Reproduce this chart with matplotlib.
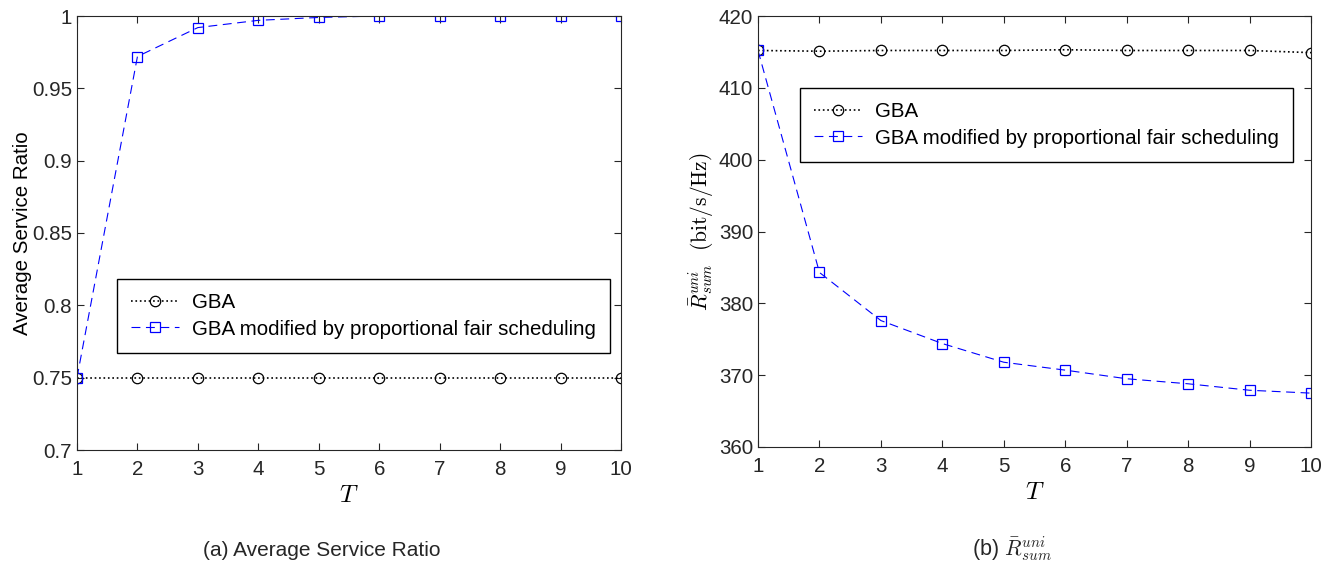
import matplotlib
matplotlib.use("Agg")
import matplotlib.pyplot as plt

plt.rcParams['font.family'] = ['Liberation Sans', 'DejaVu Sans']
plt.rcParams['mathtext.fontset'] = 'cm'

# data
T = [1, 2, 3, 4, 5, 6, 7, 8, 9, 10]
ratio_gba = [0.75, 0.75, 0.75, 0.75, 0.75, 0.75, 0.75, 0.75, 0.75, 0.75]
ratio_pf = [0.75, 0.972, 0.992, 0.997, 0.999, 1.0, 1.0, 1.0, 1.0, 1.0]
rate_gba = [415.2, 415.1, 415.2, 415.2, 415.2, 415.3, 415.2, 415.2, 415.2, 414.9]
rate_pf = [415.2, 384.3, 377.6, 374.4, 371.8, 370.7, 369.5, 368.8, 367.9, 367.5]

label_gba = 'GBA'
label_pf = 'GBA modified by proportional fair scheduling'

FS = 14.8
fig = plt.figure(figsize=(13.35, 5.7), dpi=100)
W, H = 1335.0, 570.0
ax1 = fig.add_axes([77 / W, 1 - 450 / H, (621 - 77) / W, (450 - 16) / H])
ax2 = fig.add_axes([758 / W, 1 - 447 / H, (1311 - 758) / W, (447 - 16) / H])


def draw(ax, y_gba, y_pf):
    ax.plot(T, y_gba, color='black', linestyle=':', linewidth=1.2, marker='o',
            markersize=7.5, markerfacecolor='none', markeredgewidth=0.9, label=label_gba)
    ax.plot(T, y_pf, color='blue', linestyle=(0, (8, 5)), linewidth=0.8, marker='s',
            markersize=7.5, markerfacecolor='none', markeredgewidth=0.9, label=label_pf)
    ax.set_xlim(1, 10)
    ax.set_xticks(T)
    ax.tick_params(direction='in', top=True, right=True, labelsize=FS, length=5,
                   colors='#262626')
    ax.tick_params(axis='x', pad=7)
    ax.set_xlabel('$T$', fontsize=18, labelpad=3)
    for s in ax.spines.values():
        s.set_color('#262626')
        s.set_linewidth(0.8)


def add_legend(ax, x0, y0):
    ax.legend(loc='upper left', bbox_to_anchor=(x0, y0), borderaxespad=0, fontsize=FS,
              fancybox=False, edgecolor='black', framealpha=1, handlelength=2.3,
              borderpad=0.7, labelspacing=0.35, handletextpad=0.65)


draw(ax1, ratio_gba, ratio_pf)
ax1.set_ylim(0.7, 1.0)
ax1.set_yticks([0.7, 0.75, 0.8, 0.85, 0.9, 0.95, 1.0])
ax1.set_yticklabels(['0.7', '0.75', '0.8', '0.85', '0.9', '0.95', '1'])
ax1.set_ylabel('Average Service Ratio', fontsize=FS, labelpad=0)
add_legend(ax1, (117 - 77) / 544, 1 - (279 - 16) / 434)

draw(ax2, rate_gba, rate_pf)
ax2.set_ylim(360, 420)
ax2.set_yticks([360, 370, 380, 390, 400, 410, 420])
ax2.set_ylabel(r'$\bar{R}_{sum}^{uni}\ \ (\mathrm{bit/s/Hz})$', fontsize=15.5, labelpad=2)
add_legend(ax2, (800 - 758) / 553, 1 - (88 - 16) / 431)

fig.text(322 / W, 1 - 550 / H, '(a) Average Service Ratio', ha='center', va='center',
         fontsize=15, color='#262626')
fig.text(1012 / W, 1 - 549 / H, r'(b) $\bar{R}_{sum}^{uni}$', ha='center', va='center',
         fontsize=15.5, color='#262626')

fig.savefig('out.png', dpi=100)
